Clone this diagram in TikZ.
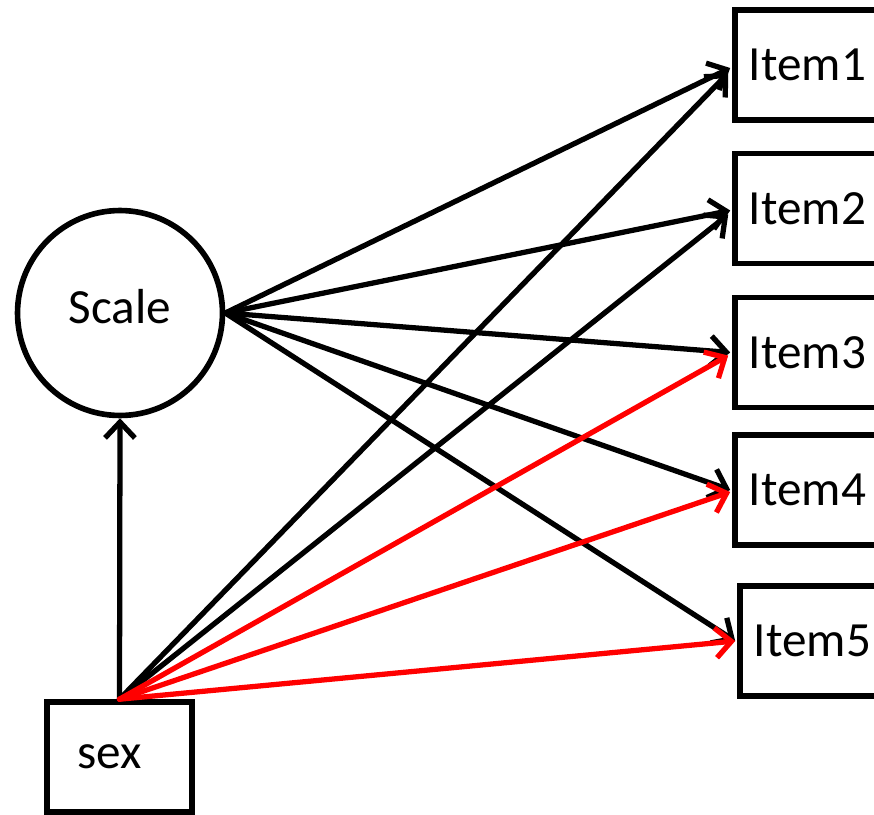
\documentclass[tikz,border=0pt]{standalone}
\usepackage{fontspec}
\setmainfont{Carlito}
\usepackage{tikz}
\usetikzlibrary{calc}
\usetikzlibrary{positioning}
\usetikzlibrary{arrows.meta}
\tikzset{
  itemNode/.style={%
    rectangle, draw, line width=3.2pt, minimum width=2.9cm, minimum height=2.2cm,
    font=\fontsize{28}{32}\selectfont,
  },
  latentNode/.style={%
    circle, draw, line width=3.2pt, minimum size=4.1cm,
    font=\fontsize{28}{32}\selectfont,
  },
  pathArrow/.style={%
    draw, line width=3pt, -{Straight Barb[length=9pt,width=17pt]}, line cap=round,
  }
}

\begin{document}
\begin{tikzpicture}[x=0.02cm,y=-0.02cm]
                \useasboundingbox (0,0) rectangle (874,814);
                \node[latentNode] (scale) at (120,313) {\raisebox{0.25cm}{Scale}};
                \node[itemNode] (sex) at (119.5,757) {\hspace*{-0.4cm}sex};
                \node[itemNode] (item1) at (807.5,65) {Item1};
                \node[itemNode] (item2) at (807.5,208.5) {Item2};
                \node[itemNode] (item3) at (807.5,352.5) {Item3};
                \node[itemNode] (item4) at (807.5,490) {Item4};
                \node[itemNode] (item5) at (812.5,641) {Item5};
                % loadings of the scale
                \path
                  (scale.east) edge[pathArrow] ($(item1.west)+(-2,3)$)
                  (scale.east) edge[pathArrow] ($(item2.west)+(-2,2)$)
                  (scale.east) edge[pathArrow] ($(item3.west)+(-2,0)$)
                  (scale.east) edge[pathArrow] ($(item4.west)+(-2,0)$)
                  (scale.east) edge[pathArrow] ($(item5.west)+(-2,0)$)
                  ;
                % direct effects of sex
                \path
                  (sex.north) edge[pathArrow] (scale.south)
                  (sex.north) edge[pathArrow] ($(item1.west)+(-4,8)$)
                  (sex.north) edge[pathArrow] ($(item2.west)+(-4,6)$)
                  ;
                \path
                  (sex.north) edge[pathArrow, red] ($(item3.west)+(-4,3)$)
                  (sex.north) edge[pathArrow, red] ($(item4.west)+(-2,2)$)
                  (sex.north) edge[pathArrow, red] ($(item5.west)+(-2,0)$)
                  ;
              \end{tikzpicture}
\end{document}
